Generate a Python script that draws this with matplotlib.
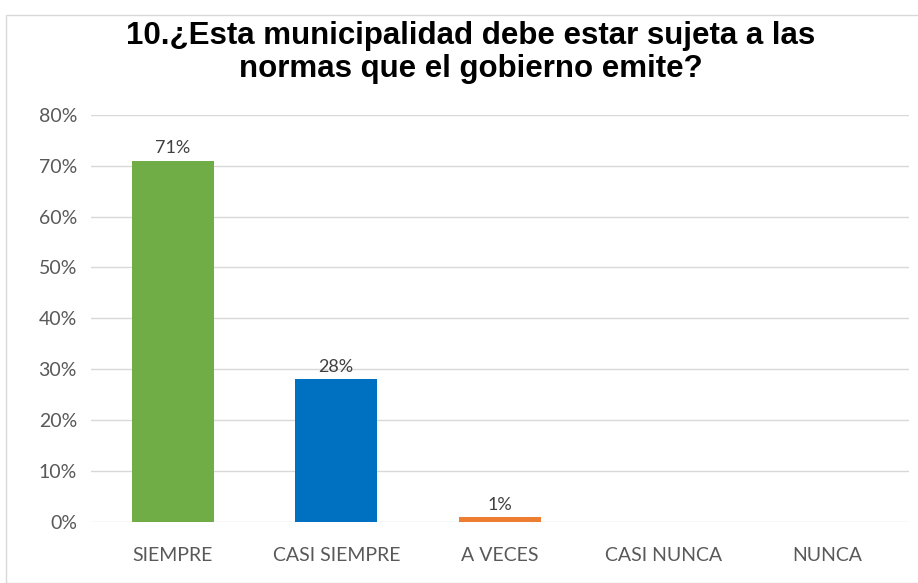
import matplotlib.pyplot as plt
from matplotlib.patches import Rectangle
from matplotlib.ticker import FuncFormatter

# datos de la encuesta
categorias = ['SIEMPRE', 'CASI SIEMPRE', 'A VECES', 'CASI NUNCA', 'NUNCA']
porcentajes = [71, 28, 1, 0, 0]
colores = ['#70AD47', '#0070C0', '#ED7D31', '#A5A5A5', '#FFC000']
etiquetas = ['71%', '28%', '1%', None, None]

fig = plt.figure(figsize=(9.18, 5.83), dpi=100)
fig.patch.set_facecolor('white')

# marco del grafico
fig.add_artist(Rectangle((0.007, 0.0), 0.995, 0.975, transform=fig.transFigure,
                         fill=False, edgecolor='#D9D9D9', linewidth=1))

ax = fig.add_axes([0.099, 0.105, 0.891, 0.698])
x = range(len(categorias))
barras = ax.bar(x, porcentajes, width=0.5, color=colores, zorder=3)

for b, txt in zip(barras, etiquetas):
    if txt:
        ax.annotate(txt, (b.get_x() + b.get_width() / 2, b.get_height()),
                    xytext=(0, 3), textcoords='offset points', ha='center', va='bottom',
                    fontsize=13, color='#404040', family='Lato')

ax.set_xlim(-0.5, len(categorias) - 0.5)
ax.set_ylim(0, 80)
ax.set_yticks(range(0, 81, 10))
ax.yaxis.set_major_formatter(FuncFormatter(lambda v, p: f'{int(v)}%'))
ax.set_xticks(list(x))
ax.set_xticklabels(categorias)
ax.grid(axis='y', color='#D9D9D9', linewidth=1, zorder=0)
for s in ax.spines.values():
    s.set_visible(False)
ax.tick_params(length=0, labelsize=14, colors='#595959', pad=10)
ax.tick_params(axis='x', pad=18)
for lbl in ax.get_xticklabels() + ax.get_yticklabels():
    lbl.set_family('Lato')

fig.text(0.513, 0.91, '10.¿Esta municipalidad debe estar sujeta a las\nnormas que el gobierno emite?',
         ha='center', va='center', fontsize=22.5, fontweight='bold', family='Liberation Sans',
         linespacing=1.15)

fig.savefig('out.png', dpi=100)
